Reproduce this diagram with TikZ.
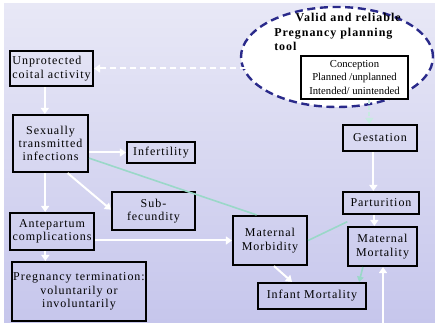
\documentclass[tikz,border=0pt]{standalone}
\usepackage{fontspec}
\setmainfont{Liberation Serif}
\newfontfamily\spacedfont[LetterSpace=8]{Liberation Serif}
\usetikzlibrary{arrows.meta,positioning,shapes.geometric,calc}
\definecolor{BackTop}{HTML}{E8E8F6}
\definecolor{BackBottom}{HTML}{C6C6EC}
\definecolor{ToolNavy}{HTML}{2A2A8A}
\definecolor{LinkTeal}{HTML}{9AD8C8}

\begin{document}
\begin{tikzpicture}[x=0.75pt,y=-0.75pt,
    every node/.style={font=\spacedfont\fontsize{9}{10}\selectfont},
    stage/.style={rectangle,draw=black,line width=1.6pt,align=center,inner sep=1pt},
    flow/.style={-{Triangle[width=6pt,length=4.5pt]},white,line width=1.5pt},
    link/.style={LinkTeal,line width=1.2pt}]
  \useasboundingbox (0,0) rectangle (435,323);
  \fill[white] (0,0) rectangle (435,323);
  \shade[top color=BackTop,bottom color=BackBottom] (4,4) rectangle (435,323);

  % planning tool
  \node[ellipse,draw=ToolNavy,line width=1.8pt,dash pattern=on 6pt off 3.5pt,
        fill=white,minimum width=144pt,minimum height=75pt] (tool) at (337,57) {};
  \node[anchor=north west,align=left,inner sep=0pt,
        font=\spacedfont\bfseries\fontsize{9}{11}\selectfont] (tooltext) at (274,13)
    {\hspace*{16pt}Valid and reliable\\Pregnancy planning\\tool};
  \node[stage,fill=white,line width=1.4pt,minimum width=80.25pt,minimum height=32.25pt,
        font=\fontsize{8}{10}\selectfont] (concep) at (354.5,77.5)
    {Conception\\Planned /unplanned\\Intended/ unintended};

  % left column
  \node[stage,align=left,minimum width=62.25pt,minimum height=26.25pt] (unprot) at (51.5,68.5)
    {Unprotected\\coital activity};
  \node[stage,minimum width=56.25pt,minimum height=42.75pt] (sti) at (50.5,143.5)
    {Sexually\\transmitted\\infections};
  \node[stage,minimum width=51pt,minimum height=15.75pt] (infert) at (161,152.5) {Infertility};
  \node[stage,minimum width=62.25pt,minimum height=28.5pt] (subfec) at (153.5,211) {Sub-\\fecundity};
  \node[stage,minimum width=63pt,minimum height=27.75pt] (ante) at (52,231.5)
    {Antepartum\\complications};
  \node[stage,minimum width=99pt,minimum height=44.25pt] (term) at (79,291.5)
    {Pregnancy termination:\\voluntarily or\\involuntarily};

  % outcomes
  \node[stage,minimum width=55.5pt,minimum height=36.75pt] (morb) at (270,240.5)
    {Maternal\\Morbidity};
  \node[stage,minimum width=81pt,minimum height=19.5pt] (infmort) at (312,296) {Infant Mortality};
  \node[stage,minimum width=55.5pt,minimum height=19.5pt] (gest) at (380,138) {Gestation};
  \node[stage,minimum width=57pt,minimum height=16.5pt] (part) at (381,203) {Parturition};
  \node[stage,minimum width=51.75pt,minimum height=29.25pt] (mort) at (382.5,246.5)
    {Maternal\\Mortality};
  \coordinate (mortin) at (383,323);

  % connectors
  \draw[flow,{Triangle[width=6pt,length=4.5pt]}-{Triangle[width=6pt,length=4.5pt]},
        dash pattern=on 5pt off 2.5pt]
    (unprot.east) -- ([xshift=-4pt]unprot.east -| concep.west);
  \draw[flow] ([xshift=-5pt]unprot.south) -- ([xshift=-5pt]unprot.south |- sti.north);
  \draw[flow] (sti.east |- infert.west) -- (infert.west);
  \draw[flow] (sti.-60) -- ([yshift=1pt]subfec.west);
  \draw[flow] ([xshift=-4pt]sti.south) -- ([xshift=-4pt]sti.south |- ante.north);
  \draw[flow] ([xshift=-5pt]ante.south) -- ([xshift=-5pt]ante.south |- term.north);
  \draw[flow] (ante.east |- morb.west) -- (morb.west);
  \draw[link] ([yshift=-11pt]sti.east) -- ([xshift=-10pt]morb.north);
  \draw[link] (morb.east) -- ([xshift=4pt,yshift=-5pt]part.south west);
  \draw[flow,white!45!LinkTeal,dash pattern=on 3pt off 1.5pt]
    ([xshift=-8pt]gest.north |- concep.south) -- ([xshift=-8pt]gest.north);
  \draw[flow] ([xshift=-5pt]gest.south) -- ([xshift=-5pt]gest.south |- part.north);
  \draw[flow] ([xshift=-5pt]part.south) -- ([xshift=-5pt]part.south |- mort.north);
  \draw[flow] ([xshift=3pt]morb.south) -- ([xshift=-15pt]infmort.north);
  \draw[link,-{Triangle[width=5pt,length=4pt]}]
    ([xshift=12pt]mort.south west) -- ([xshift=-6pt]infmort.north east);
  \draw[flow] (mortin) -- (mortin |- mort.south);
\end{tikzpicture}
\end{document}
